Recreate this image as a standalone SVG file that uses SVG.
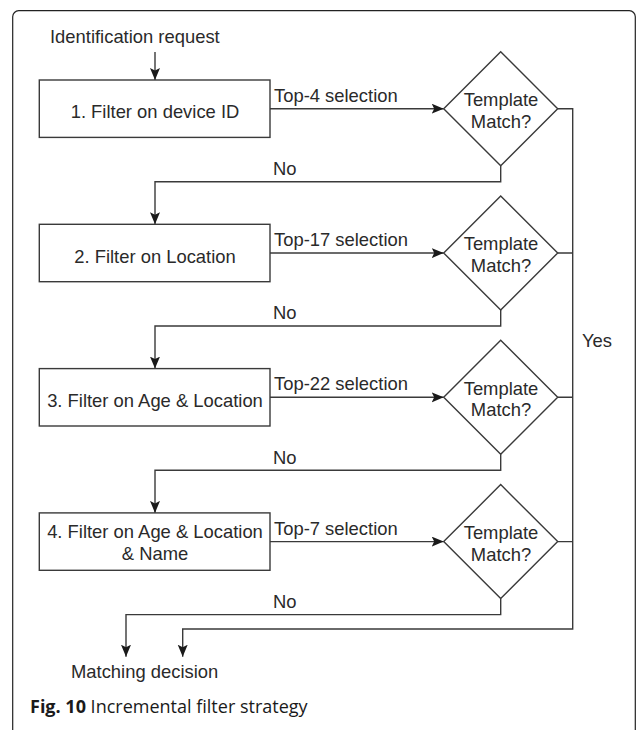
<svg xmlns="http://www.w3.org/2000/svg" width="637" height="730" viewBox="0 0 637 730">
<defs>
<style>
.t{font-family:"Liberation Sans",Arial,Helvetica,sans-serif;font-size:18.4px;fill:#2a2a2a}
.m{text-anchor:middle}
.s{fill:#fff;stroke:#3a3a3a;stroke-width:1.4}
.c{fill:none;stroke:#3a3a3a;stroke-width:1.4}
.cap{font-family:"Open Sans","Noto Sans",sans-serif;font-size:18px;fill:#1a1a1a}
</style>
<marker id="ah" markerUnits="userSpaceOnUse" markerWidth="13" markerHeight="11" refX="12" refY="5" orient="auto">
<path d="M0,0 L12,5 L0,10 L2.5,5 z" fill="#1a1a1a"/>
</marker>
</defs>
<rect x="12.7" y="10.7" width="622.6" height="740" rx="6" ry="6" fill="#fff" stroke="#222" stroke-width="1.2"/>

<g id="start">
<text class="t" x="50" y="43">Identification request</text>
</g>

<g id="connectors">
<path class="c" d="M155,52 V80" marker-end="url(#ah)"/>
<path class="c" d="M270,108.7 H443.7" marker-end="url(#ah)"/>
<path class="c" d="M270,253 H443.7" marker-end="url(#ah)"/>
<path class="c" d="M270,397.3 H443.7" marker-end="url(#ah)"/>
<path class="c" d="M270,541.6 H443.7" marker-end="url(#ah)"/>
<path class="c" d="M500.7,165.7 V181.7 H155 V224.3" marker-end="url(#ah)"/>
<path class="c" d="M500.7,310 V326 H155 V368.6" marker-end="url(#ah)"/>
<path class="c" d="M500.7,454.3 V470.3 H155 V512.9" marker-end="url(#ah)"/>
<path class="c" d="M500.7,598.6 V614.6 H126 V656.7" marker-end="url(#ah)"/>
<path class="c" d="M557.7,108.7 H572.7 V629 H182.7 V656.7" marker-end="url(#ah)"/>
<path class="c" d="M557.7,253 H572.7 M557.7,397.3 H572.7 M557.7,541.6 H572.7"/>
<text class="t" x="274" y="101.7">Top-4 selection</text>
<text class="t" x="274" y="246">Top-17 selection</text>
<text class="t" x="274" y="390.3">Top-22 selection</text>
<text class="t" x="274" y="534.6">Top-7 selection</text>
<text class="t" x="273" y="175">No</text>
<text class="t" x="273" y="319.3">No</text>
<text class="t" x="273" y="463.6">No</text>
<text class="t" x="273" y="607.9">No</text>
<text class="t" x="582" y="346.7">Yes</text>
</g>

<g id="filter1">
<rect class="s" x="39.3" y="80" width="230.7" height="57.4"/>
<text class="t m" x="155" y="118.3">1. Filter on device ID</text>
</g>
<g id="match1">
<polygon class="s" points="500.7,51.7 557.7,108.7 500.7,165.7 443.7,108.7"/>
<text class="t m" x="501" y="106">Template</text>
<text class="t m" x="501" y="127.7">Match?</text>
</g>

<g id="filter2">
<rect class="s" x="39.3" y="224.3" width="230.7" height="57.4"/>
<text class="t m" x="155" y="262.6">2. Filter on Location</text>
</g>
<g id="match2">
<polygon class="s" points="500.7,196 557.7,253 500.7,310 443.7,253"/>
<text class="t m" x="501" y="250.3">Template</text>
<text class="t m" x="501" y="272">Match?</text>
</g>

<g id="filter3">
<rect class="s" x="39.3" y="368.6" width="230.7" height="57.4"/>
<text class="t m" x="155" y="406.9">3. Filter on Age &amp; Location</text>
</g>
<g id="match3">
<polygon class="s" points="500.7,340.3 557.7,397.3 500.7,454.3 443.7,397.3"/>
<text class="t m" x="501" y="394.6">Template</text>
<text class="t m" x="501" y="416.3">Match?</text>
</g>

<g id="filter4">
<rect class="s" x="39.3" y="512.9" width="230.7" height="57.4"/>
<text class="t m" x="155" y="538.3">4. Filter on Age &amp; Location</text>
<text class="t m" x="155" y="560">&amp; Name</text>
</g>
<g id="match4">
<polygon class="s" points="500.7,484.6 557.7,541.6 500.7,598.6 443.7,541.6"/>
<text class="t m" x="501" y="538.9">Template</text>
<text class="t m" x="501" y="560.6">Match?</text>
</g>

<g id="decision">
<text class="t" x="71" y="678.3">Matching decision</text>
</g>

<text class="cap" x="30" y="713.3"><tspan font-weight="bold">Fig. 10</tspan> Incremental filter strategy</text>
</svg>
